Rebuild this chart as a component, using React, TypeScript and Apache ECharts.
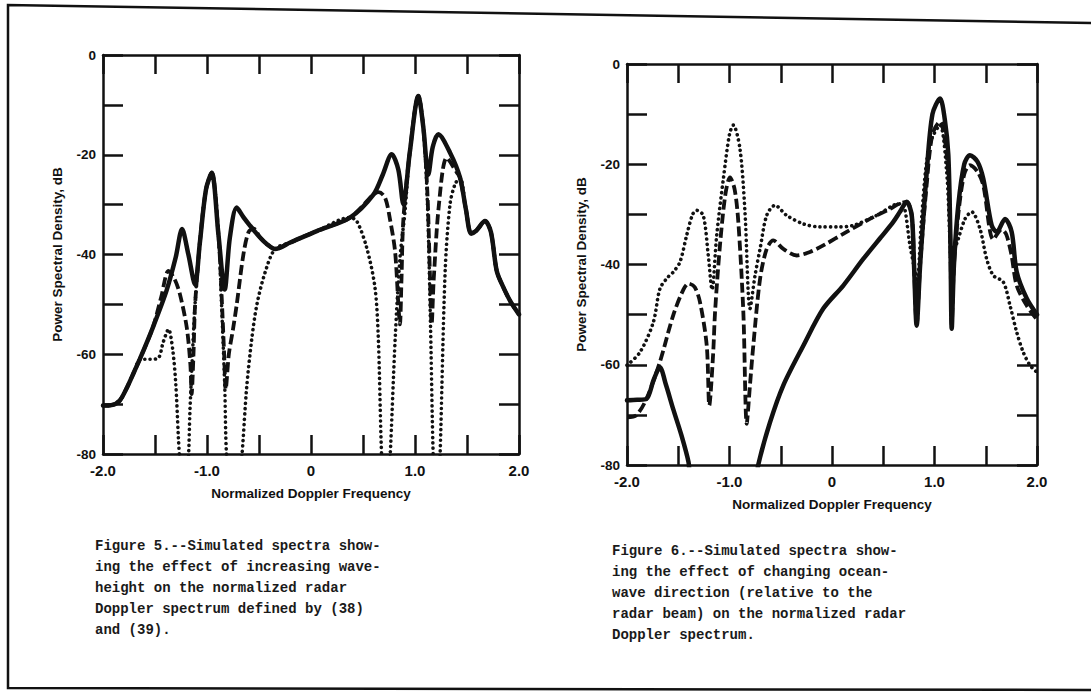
import React, { useEffect, useRef } from 'react';
import * as echarts from 'echarts';

// ---- Tick labels ----
const X_TICK_VALUES = [-2, -1, 0, 1, 2];
const X_TICK_LABELS = ['-2.0', '-1.0', '0', '1.0', '2.0'];
const Y_TICK_VALUES = [0, -20, -40, -60, -80];
const Y_TICK_LABELS = ['0', '-20', '-40', '-60', '-80'];

const X_NAME = 'Normalized Doppler Frequency';
const Y_NAME = 'Power Spectral Density, dB';

// ---- Figure 5: increasing waveheight ----
const F5_SOLID = [
  [-2.0, -70.3], [-1.92, -70.2], [-1.84, -69.3], [-1.77, -66.7], [-1.7, -63.5], [-1.64, -60.7],
  [-1.52, -54.6], [-1.39, -47.3], [-1.3, -40.5], [-1.24, -34.9], [-1.18, -39.9], [-1.115, -46],
  [-1.07, -37.9], [-1.01, -27], [-0.955, -23.6], [-0.89, -36], [-0.83, -47], [-0.78, -36.6],
  [-0.714, -30.6], [-0.65, -32.5], [-0.587, -34.2], [-0.49, -36.6], [-0.42, -38], [-0.346, -38.9],
  [-0.2, -37.6], [0.055, -35.3], [0.375, -32.6], [0.6, -28], [0.69, -24], [0.776, -19.9],
  [0.84, -23], [0.888, -29.9], [0.95, -19.5], [1.032, -8.2], [1.08, -14.5], [1.128, -24],
  [1.17, -18.5], [1.224, -15.9], [1.337, -19.6], [1.433, -24.6], [1.49, -31], [1.54, -35.8],
  [1.59, -35.2], [1.673, -33.3], [1.73, -35.5], [1.786, -43.3], [1.85, -46.6], [1.92, -49.5], [2.0, -52],
];
const F5_DASHED = [
  [-2.0, -70.3], [-1.92, -70.2], [-1.84, -69.3], [-1.77, -66.7], [-1.7, -63.5], [-1.64, -60.7],
  [-1.52, -54.6], [-1.44, -48.5], [-1.37, -43.3], [-1.31, -45], [-1.26, -48], [-1.195, -54.6],
  [-1.16, -62], [-1.148, -68], [-1.13, -60], [-1.115, -50.3], [-1.07, -37.9], [-1.01, -27],
  [-0.955, -23.6], [-0.89, -36], [-0.86, -48], [-0.835, -60], [-0.82, -67], [-0.79, -60],
  [-0.75, -55], [-0.714, -50], [-0.65, -40], [-0.6, -35.5], [-0.55, -34.8], [-0.49, -36.6],
  [-0.42, -38], [-0.346, -38.9], [-0.2, -37.6], [0.055, -35.3], [0.375, -32.6], [0.6, -28],
  [0.65, -27.5], [0.712, -28.6], [0.76, -33], [0.808, -39.3], [0.84, -50], [0.855, -54],
  [0.87, -45], [0.888, -33], [0.95, -19.5], [1.032, -8.2], [1.08, -14.5], [1.12, -28],
  [1.145, -45], [1.16, -54], [1.18, -45], [1.23, -30], [1.305, -20.6], [1.4, -23.5],
  [1.433, -24.6], [1.49, -31], [1.54, -35.8], [1.59, -35.2], [1.673, -33.3], [1.73, -35.5],
  [1.786, -43.3], [1.85, -46.6], [1.92, -49.5], [2.0, -52],
];
const F5_DOTTED = [
  [-2.0, -70.3], [-1.92, -70.2], [-1.84, -69.3], [-1.77, -66.7], [-1.7, -63.5], [-1.64, -61],
  [-1.55, -61], [-1.47, -60.8], [-1.42, -57.5], [-1.37, -55], [-1.33, -59], [-1.3, -66],
  [-1.275, -76.7], [-1.26, -82], [-1.22, -95], [-1.18, -82], [-1.165, -72], [-1.147, -63.3],
  [-1.115, -50], [-1.07, -37.9], [-1.01, -27], [-0.955, -23.6], [-0.89, -36], [-0.86, -50],
  [-0.83, -66], [-0.81, -81], [-0.74, -95], [-0.667, -81], [-0.62, -67], [-0.57, -57],
  [-0.52, -50], [-0.44, -43.5], [-0.346, -38.9], [-0.2, -37.6], [0.055, -35.3], [0.375, -32.6],
  [0.44, -33.3], [0.535, -38.6], [0.615, -46.6], [0.647, -56.6], [0.68, -81], [0.72, -95],
  [0.76, -81], [0.81, -56.6], [0.856, -40.6], [0.904, -31.3], [0.95, -19.5], [1.032, -8.2],
  [1.08, -14.5], [1.12, -30], [1.15, -55], [1.176, -81], [1.21, -95], [1.24, -81],
  [1.29, -43.3], [1.337, -29.9], [1.385, -25.9], [1.433, -24.6], [1.49, -31], [1.54, -35.8],
  [1.59, -35.2], [1.673, -33.3], [1.73, -35.5], [1.786, -43.3], [1.85, -46.6], [1.92, -49.5], [2.0, -52],
];

// ---- Figure 6: changing ocean-wave direction ----
const F6_SOLID = [
  [-2.0, -67.1], [-1.9, -67], [-1.81, -66.8], [-1.74, -63], [-1.68, -60.5], [-1.62, -64],
  [-1.55, -68.8], [-1.47, -74], [-1.4, -79.4], [-1.36, -85], [-0.76, -85], [-0.72, -80],
  [-0.605, -71.5], [-0.475, -64.1], [-0.28, -56.2], [-0.085, -48.8], [0.11, -44.2], [0.305, -38.9],
  [0.48, -34.5], [0.598, -31.5], [0.663, -29.5], [0.729, -27.5], [0.778, -30.2], [0.8, -40],
  [0.826, -52.2], [0.86, -40], [0.924, -21.6], [0.98, -10], [1.054, -6.9], [1.1, -11],
  [1.135, -18.2], [1.155, -35], [1.168, -52.8], [1.19, -40], [1.232, -28.2], [1.29, -20],
  [1.346, -18.2], [1.42, -19.5], [1.476, -22.9], [1.558, -32.2], [1.607, -33.5], [1.688, -30.9],
  [1.753, -33.5], [1.802, -41.5], [1.9, -46.8], [2.0, -50],
];
const F6_DASHED = [
  [-2.0, -70.5], [-1.91, -70.1], [-1.81, -66.8], [-1.68, -59.5], [-1.55, -50.2], [-1.45, -45],
  [-1.4, -43.8], [-1.34, -44.5], [-1.288, -47.5], [-1.222, -56.2], [-1.197, -68.1], [-1.16, -58],
  [-1.141, -49.5], [-1.093, -36.2], [-1.04, -26], [-0.995, -22.6], [-0.95, -25], [-0.914, -31.5],
  [-0.865, -49.5], [-0.832, -71.8], [-0.8, -64], [-0.768, -56.2], [-0.702, -42.9], [-0.637, -36.9],
  [-0.573, -35.2], [-0.475, -36.9], [-0.344, -38.2], [-0.215, -37.5], [-0.085, -36.2], [0.143, -33.5],
  [0.37, -30.9], [0.566, -28.9], [0.66, -27.8], [0.729, -27.5], [0.778, -30.2], [0.8, -40],
  [0.826, -52], [0.86, -40], [0.924, -24], [0.98, -14], [1.054, -11.5], [1.1, -15],
  [1.135, -22], [1.155, -36], [1.168, -52], [1.19, -40], [1.232, -30], [1.29, -22],
  [1.346, -20.2], [1.42, -21.5], [1.476, -24.2], [1.574, -35], [1.655, -33], [1.7, -34],
  [1.75, -38], [1.802, -44.2], [1.9, -48.2], [2.0, -51],
];
const F6_DOTTED = [
  [-2.0, -60.1], [-1.873, -57.5], [-1.743, -51.5], [-1.678, -44.8], [-1.6, -42.5], [-1.548, -41.5],
  [-1.483, -39.5], [-1.418, -34.2], [-1.36, -30], [-1.32, -29.2], [-1.256, -30.2], [-1.207, -38.2],
  [-1.17, -45], [-1.125, -34.2], [-1.06, -22.9], [-1.0, -14], [-0.963, -12.2], [-0.898, -16.9],
  [-0.849, -29.5], [-0.8, -48.8], [-0.751, -42.2], [-0.702, -36.9], [-0.637, -30.2], [-0.556, -28.2],
  [-0.442, -30.2], [-0.28, -31.9], [-0.117, -32.5], [0.05, -32.5], [0.208, -32.2], [0.436, -30.2],
  [0.598, -28.2], [0.66, -27.9], [0.696, -28], [0.761, -36.2], [0.81, -41.5], [0.83, -44],
  [0.87, -32], [0.92, -20], [0.973, -14.9], [1.054, -12.2], [1.119, -21.6], [1.15, -35],
  [1.168, -43], [1.2, -37], [1.232, -34.9], [1.298, -30.9], [1.363, -29.5], [1.444, -32.9],
  [1.509, -38.9], [1.574, -42.2], [1.671, -43.5], [1.737, -48.2], [1.802, -53.5], [1.866, -57.5],
  [1.932, -60.1], [2.0, -61.5],
];

const CAPTION_5 = [
  'Figure 5.--Simulated spectra show-',
  'ing the effect of increasing wave-',
  'height on the normalized radar',
  'Doppler spectrum defined by (38)',
  'and (39).',
];
const CAPTION_6 = [
  'Figure 6.--Simulated spectra show-',
  'ing the effect of changing ocean-',
  'wave direction (relative to the',
  'radar beam) on the normalized radar',
  'Doppler spectrum.',
];

const INK = '#111';
const LABEL_FONT = { fontFamily: 'Liberation Sans, Arial, sans-serif', fontWeight: 900 as any, color: INK };

function xAxis(gridIndex: number, position: 'bottom' | 'top', withLabels: boolean) {
  return {
    type: 'value', gridIndex, position, min: -2, max: 2, interval: 0.5,
    axisLine: { show: true, onZero: false, lineStyle: { color: INK, width: 2.5 } },
    axisTick: { show: true, inside: true, length: 19, lineStyle: { color: INK, width: 2.5 } },
    axisLabel: withLabels
      ? {
          show: true, margin: 9, fontSize: 15, ...LABEL_FONT, showMinLabel: true, showMaxLabel: true,
          formatter: (v: number) => {
            const i = X_TICK_VALUES.indexOf(v);
            return i >= 0 ? X_TICK_LABELS[i] : '';
          },
        }
      : { show: false },
    splitLine: { show: false },
    name: withLabels ? X_NAME : '',
    nameLocation: 'middle', nameGap: 32,
    nameTextStyle: { fontSize: 13.5, ...LABEL_FONT },
  };
}
function yAxis(gridIndex: number, position: 'left' | 'right', withLabels: boolean) {
  return {
    type: 'value', gridIndex, position, min: -80, max: 0, interval: 10,
    axisLine: { show: true, onZero: false, lineStyle: { color: INK, width: 2.5 } },
    axisTick: { show: true, inside: true, length: 20, lineStyle: { color: INK, width: 2.5 } },
    axisLabel: withLabels
      ? {
          show: true, margin: 7, fontSize: 13.5, ...LABEL_FONT, showMinLabel: true, showMaxLabel: true,
          formatter: (v: number) => {
            const i = Y_TICK_VALUES.indexOf(v);
            return i >= 0 ? Y_TICK_LABELS[i] : '';
          },
        }
      : { show: false },
    splitLine: { show: false },
    name: withLabels ? Y_NAME : '',
    nameLocation: 'middle', nameRotate: 90, nameGap: 39,
    nameTextStyle: { fontSize: 13.5, ...LABEL_FONT },
  };
}

function line(data: number[][], axis: number, kind: 'solid' | 'dashed' | 'dotted', z: number) {
  const lineStyle: any = { color: INK, join: 'round' };
  if (kind === 'solid') { lineStyle.width = 4.5; lineStyle.type = 'solid'; lineStyle.cap = 'round'; }
  if (kind === 'dashed') { lineStyle.width = 3.8; lineStyle.type = [10, 4]; lineStyle.cap = 'butt'; }
  if (kind === 'dotted') { lineStyle.width = 3.6; lineStyle.type = [0.1, 5.2]; lineStyle.cap = 'round'; }
  return {
    type: 'line', xAxisIndex: axis, yAxisIndex: axis, data, showSymbol: false, symbol: 'none',
    smooth: 0.3, clip: true, z, lineStyle, emphasis: { disabled: true },
  };
}

function captionText(lines: string[], x: number, y: number) {
  return lines.map((t, i) => ({
    type: 'text', left: x, top: y + i * 21,
    style: { text: t, fontFamily: 'Liberation Mono, DejaVu Sans Mono, monospace', fontWeight: 'bold', fontSize: 14, fill: '#1a1a1a' },
  }));
}

export default function App() {
  const ref = useRef<HTMLDivElement>(null);
  useEffect(() => {
    const chart = echarts.init(ref.current!, null, { renderer: 'svg' });
    chart.setOption({
      animation: false,
      backgroundColor: '#fff',
      grid: [
        { left: 103, top: 55, width: 416, height: 399 },
        { left: 627, top: 64, width: 410, height: 401 },
      ],
      xAxis: [xAxis(0, 'bottom', true), xAxis(0, 'top', false), xAxis(1, 'bottom', true), xAxis(1, 'top', false)],
      yAxis: [yAxis(0, 'left', true), yAxis(0, 'right', false), yAxis(1, 'left', true), yAxis(1, 'right', false)],
      series: [
        line(F5_DOTTED, 0, 'dotted', 2),
        line(F5_DASHED, 0, 'dashed', 3),
        line(F5_SOLID, 0, 'solid', 4),
        line(F6_DOTTED, 2, 'dotted', 2),
        line(F6_DASHED, 2, 'dashed', 3),
        line(F6_SOLID, 2, 'solid', 4),
      ],
      graphic: [
        {
          type: 'polyline', silent: true,
          shape: { points: [[1091, 23], [8, 5], [8, 688], [1091, 690]] },
          style: { stroke: INK, lineWidth: 2.5, fill: 'none' },
        },
        ...captionText(CAPTION_5, 95, 539),
        ...captionText(CAPTION_6, 612, 544),
      ],
    });
    return () => chart.dispose();
  }, []);
  return (
    <div
      ref={ref}
      style={{ position: 'fixed', left: 0, top: 0, width: 1091, height: 700, background: '#fff' }}
    />
  );
}
